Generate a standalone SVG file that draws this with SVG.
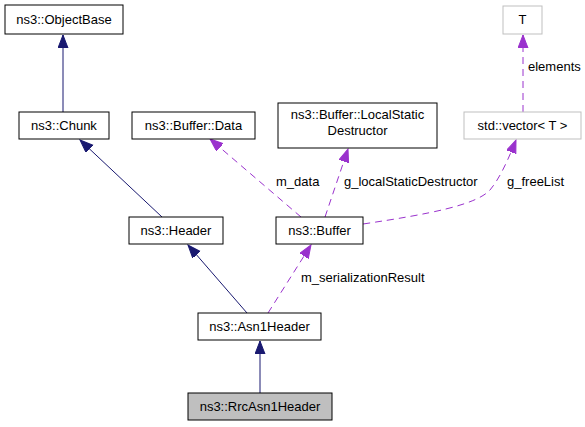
<svg xmlns="http://www.w3.org/2000/svg" width="585" height="427" viewBox="0 0 585 427">
<style>
.n rect{fill:#fff;stroke:#000;stroke-width:1}
.g rect{fill:#fff;stroke:#bfbfbf;stroke-width:1}
.sel rect{fill:#bfbfbf;stroke:#000;stroke-width:1}
text{font-family:"Liberation Sans",Arial,sans-serif;font-size:13px;fill:#000}
.t{text-anchor:middle}
.inh{fill:none;stroke:#191970;stroke-width:1}
.use{fill:none;stroke:#9a32cd;stroke-width:1;stroke-dasharray:7,5}
</style>
<defs>
<marker id="ab" markerUnits="userSpaceOnUse" markerWidth="14" markerHeight="11" refX="13" refY="5" orient="auto" viewBox="0 0 14 11">
<path d="M0,0 L13,5 L0,10 z" fill="#191970" stroke="#191970"/>
</marker>
<marker id="ap" markerUnits="userSpaceOnUse" markerWidth="14" markerHeight="11" refX="13" refY="5" orient="auto" viewBox="0 0 14 11">
<path d="M0,0 L13,5 L0,10 z" fill="#9a32cd" stroke="#9a32cd"/>
</marker>
</defs>
<rect width="585" height="427" fill="#fff"/>
<g id="edges">
<path class="inh" d="M63,112 L63,35" marker-end="url(#ab)"/>
<path class="inh" d="M162,217 L80,140" marker-end="url(#ab)"/>
<path class="inh" d="M247,313 L188,245" marker-end="url(#ab)"/>
<path class="inh" d="M260,393 L260,341" marker-end="url(#ab)"/>
<path class="use" d="M268,313 L311,245" marker-end="url(#ap)"/>
<path class="use" d="M301,217 L210,139" marker-end="url(#ap)"/>
<path class="use" d="M325,217 L348,149" marker-end="url(#ap)"/>
<path class="use" d="M363,224 C430,214 476,205 490,190 C500,178 508,160 516,140" marker-end="url(#ap)"/>
<path class="use" d="M523,112 L523,35" marker-end="url(#ap)"/>
<text x="301" y="282">m_serializationResult</text>
<text x="276" y="186">m_data</text>
<text x="344" y="186">g_localStaticDestructor</text>
<text x="507" y="186">g_freeList</text>
<text x="528" y="71">elements</text>
</g>
<g id="ObjectBase" class="n"><rect x="5" y="5" width="118" height="29"/><text class="t" x="64" y="24">ns3::ObjectBase</text></g>
<g id="Chunk" class="n"><rect x="19" y="112" width="90" height="27"/><text class="t" x="64" y="130">ns3::Chunk</text></g>
<g id="BufferData" class="n"><rect x="132" y="112" width="123" height="27"/><text class="t" x="193.5" y="130">ns3::Buffer::Data</text></g>
<g id="LocalStaticDestructor" class="n"><rect x="278" y="103" width="159" height="45"/><text class="t" x="357.5" y="119">ns3::Buffer::LocalStatic</text><text class="t" x="357.5" y="135">Destructor</text></g>
<g id="T" class="g"><rect x="503" y="6" width="39" height="28"/><text class="t" x="522.5" y="24">T</text></g>
<g id="vector" class="g"><rect x="464" y="112" width="117" height="27"/><text class="t" x="522.5" y="130">std::vector&lt; T &gt;</text></g>
<g id="Header" class="n"><rect x="129" y="217" width="94" height="27"/><text class="t" x="176" y="235">ns3::Header</text></g>
<g id="Buffer" class="n"><rect x="276" y="217" width="87" height="27"/><text class="t" x="319.5" y="235">ns3::Buffer</text></g>
<g id="Asn1Header" class="n"><rect x="198" y="313" width="123" height="27"/><text class="t" x="259.5" y="331">ns3::Asn1Header</text></g>
<g id="RrcAsn1Header" class="sel"><rect x="188" y="393" width="144" height="27"/><text class="t" x="260" y="411">ns3::RrcAsn1Header</text></g>
</svg>
